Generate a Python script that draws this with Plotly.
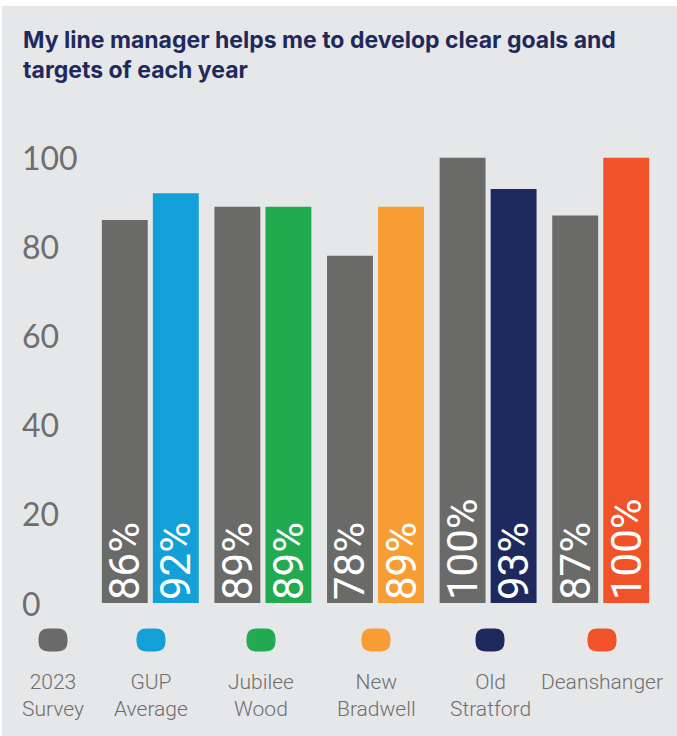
import plotly.graph_objects as go

# Survey results: 2023 baseline vs each school / GUP average
categories = ["GUP Average", "Jubilee Wood", "New Bradwell", "Old Stratford", "Deanshanger"]
survey_2023 = [86, 89, 78, 100, 87]
current = [92, 89, 89, 93, 100]

grey = "#6A6A68"
bar_colors = ["#139FD7", "#21AA4F", "#F89D34", "#1E2A5E", "#F0522A"]

legend_labels = ["2023<br>Survey", "GUP<br>Average", "Jubilee<br>Wood",
                 "New<br>Bradwell", "Old<br>Stratford", "Deanshanger"]
legend_colors = [grey] + bar_colors

y_ticks = [0, 20, 40, 60, 80, 100]

W, H = 677, 736
ML, MR, MT, MB = 94, 20, 131, 133
PW, PH = W - ML - MR, H - MT - MB


def px_x(p):
    return (p - ML) / PW


def px_y(p):
    return (H - MB - p) / PH


bg = "#E6E7E9"
label_grey = "#6D6E70"

text_font = dict(family="Roboto, Arial, sans-serif", size=42, color="white")

fig = go.Figure()
fig.add_trace(go.Bar(
    x=categories, y=survey_2023, name="2023 Survey",
    marker=dict(color=grey, line=dict(width=0)),
    texttemplate="%{y}%", textposition="inside", insidetextanchor="start",
    textangle=-90, textfont=text_font, constraintext="none",
    hoverinfo="skip",
))
fig.add_trace(go.Bar(
    x=categories, y=current, name="Current",
    marker=dict(color=bar_colors, line=dict(width=0)),
    texttemplate="%{y}%", textposition="inside", insidetextanchor="start",
    textangle=-90, textfont=text_font, constraintext="none",
    hoverinfo="skip",
))

shapes = [dict(
    type="rect", xref="paper", yref="paper", layer="below",
    x0=px_x(2), x1=px_x(W + 2), y0=px_y(H + 2), y1=px_y(6),
    fillcolor=bg, line=dict(width=0),
)]


def rounded_box(cx, cy, w, h, r):
    # rounded rectangle path in paper coordinates, built from pixel geometry
    x0, x1 = cx - w / 2, cx + w / 2
    y0, y1 = cy - h / 2, cy + h / 2
    pts = [
        ("M", x0 + r, y0), ("L", x1 - r, y0), ("Q", x1, y0, x1, y0 + r),
        ("L", x1, y1 - r), ("Q", x1, y1, x1 - r, y1), ("L", x0 + r, y1),
        ("Q", x0, y1, x0, y1 - r), ("L", x0, y0 + r), ("Q", x0, y0, x0 + r, y0),
    ]
    out = []
    for p in pts:
        cmd, coords = p[0], p[1:]
        conv = []
        for i in range(0, len(coords), 2):
            conv.append(f"{px_x(coords[i]):.5f},{px_y(coords[i + 1]):.5f}")
        out.append(cmd + " " + " ".join(conv))
    return " ".join(out) + " Z"


legend_x = [53, 151, 261, 376, 490, 602]
annotations = []
for cx, col, lab in zip(legend_x, legend_colors, legend_labels):
    shapes.append(dict(
        type="path", xref="paper", yref="paper",
        path=rounded_box(cx, 640, 29, 23, 10),
        fillcolor=col, line=dict(width=0),
    ))
    annotations.append(dict(
        x=px_x(cx), y=px_y(668), xref="paper", yref="paper",
        text=lab, showarrow=False, xanchor="center", yanchor="top",
        align="center",
        font=dict(family="Roboto, Arial, sans-serif", size=21, color=label_grey,
                  weight=300),
    ))

for t in y_ticks:
    annotations.append(dict(
        x=px_x(20), y=t, xref="paper", yref="y",
        text=str(t), showarrow=False, xanchor="left", yanchor="middle",
        font=dict(family="Lato, Arial, sans-serif", size=32, color=label_grey,
                  weight=400),
    ))

annotations.append(dict(
    x=px_x(21), y=px_y(24), xref="paper", yref="paper",
    text="My line manager helps me to develop clear goals and<br>targets of each year",
    showarrow=False, xanchor="left", yanchor="top", align="left",
    font=dict(family="Inter, Arial, sans-serif", size=23, color="#1F2A5C",
              weight=700),
))

fig.update_layout(
    width=W, height=H,
    margin=dict(l=ML, r=MR, t=MT, b=MB),
    paper_bgcolor="white", plot_bgcolor="rgba(0,0,0,0)",
    barmode="group", bargap=0.094, bargroupgap=0.1,
    showlegend=False,
    xaxis=dict(visible=False, fixedrange=True),
    yaxis=dict(range=[0, 106], visible=False, fixedrange=True),
    shapes=shapes, annotations=annotations,
)

fig.write_html("out.html", config={"displayModeBar": False})
